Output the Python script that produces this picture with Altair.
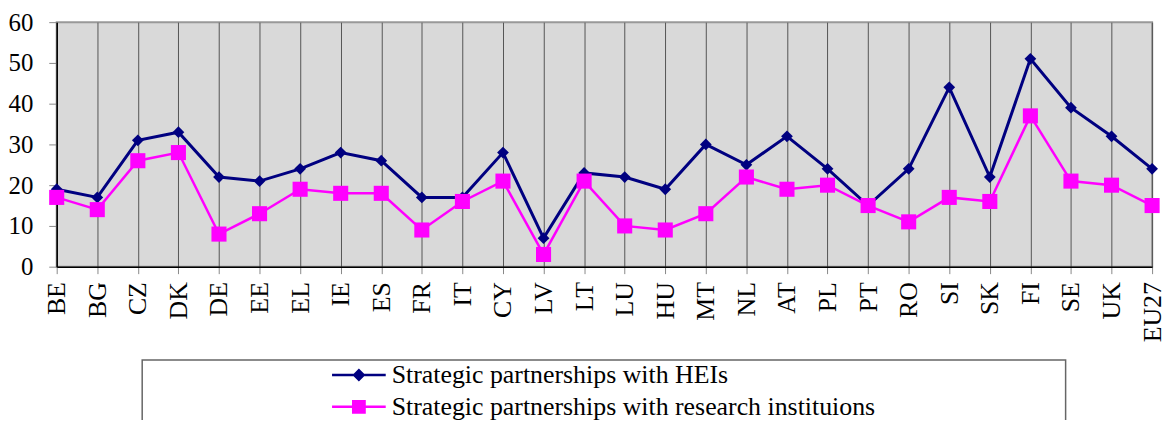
import altair as alt
import pandas as pd

countries = ["BE", "BG", "CZ", "DK", "DE", "EE", "EL", "IE", "ES", "FR", "IT", "CY", "LV", "LT",
             "LU", "HU", "MT", "NL", "AT", "PL", "PT", "RO", "SI", "SK", "FI", "SE", "UK", "EU27"]
heis = [19, 17, 31, 33, 22, 21, 24, 28, 26, 17, 17, 28, 7, 23,
        22, 19, 30, 25, 32, 24, 15, 24, 44, 22, 51, 39, 32, 24]
research = [17, 14, 26, 28, 8, 13, 19, 18, 18, 9, 16, 21, 3, 21,
            10, 9, 13, 22, 19, 20, 15, 11, 17, 16, 37, 21, 20, 15]
series_names = ["Strategic partnerships with HEIs",
                "Strategic partnerships with research instituions"]
y_ticks = [0, 10, 20, 30, 40, 50, 60]

NAVY = "#000080"
MAGENTA = "#ff00ff"

rows = []
for c, a, b in zip(countries, heis, research):
    rows.append({"country": c, "series": series_names[0], "value": a})
    rows.append({"country": c, "series": series_names[1], "value": b})
df = pd.DataFrame(rows)
legend_df = pd.DataFrame({"series": series_names})

FONT = "Liberation Serif, Times New Roman, serif"

x_enc = alt.X("country:N", sort=countries,
              scale=alt.Scale(domain=countries, type="point", padding=0),
              axis=alt.Axis(title=None, labelAngle=270, labelAlign="right", labelBaseline="middle",
                            labelFont=FONT, labelFontSize=26, labelColor="#000000",
                            labelPadding=8, tickSize=7, tickColor="#888888",
                            domainColor="#000000", domainWidth=1.5,
                            grid=True, gridColor="#555555", gridWidth=1))
y_enc = alt.Y("value:Q", scale=alt.Scale(domain=[0, 60], nice=False, zero=True),
              axis=alt.Axis(title=None, values=y_ticks, labelFont=FONT, labelFontSize=25,
                            labelColor="#000000", labelPadding=16, tickSize=8,
                            tickColor="#888888", domainColor="#000000", domainWidth=1.5,
                            grid=False))

base = alt.Chart(df)
sel_a = alt.datum.series == series_names[0]
sel_b = alt.datum.series == series_names[1]

line_a = base.transform_filter(sel_a).mark_line(color=NAVY, strokeWidth=3).encode(x=x_enc, y=y_enc)
pts_a = base.transform_filter(sel_a).mark_point(
    shape="diamond", filled=True, size=140, opacity=1, color=NAVY).encode(x=x_enc, y=y_enc)
line_b = base.transform_filter(sel_b).mark_line(color=MAGENTA, strokeWidth=2.5).encode(x=x_enc, y=y_enc)
pts_b = base.transform_filter(sel_b).mark_point(
    shape="square", filled=True, size=230, opacity=1, color=MAGENTA).encode(x=x_enc, y=y_enc)

legend_shapes = ["M-4.5,0L4.5,0M-0.8,0L0,-0.8L0.8,0L0,0.8Z",
                 "M-4.5,0L4.5,0M-0.95,-0.95L0.95,-0.95L0.95,0.95L-0.95,0.95Z"]
leg = alt.Legend(orient="none", legendX=291, legendY=342, title="",
                 labelFont=FONT, labelFontSize=26, labelColor="#000000",
                 symbolSize=144, symbolStrokeWidth=2.5, symbolOpacity=1,
                 labelOffset=20, rowPadding=6, padding=0, labelLimit=800)
legend_layer = alt.Chart(legend_df).mark_point(
    filled=True, strokeWidth=2.5, opacity=1, size=0).encode(
    x=alt.value(0), y=alt.value(0),
    fill=alt.Fill("series:N", scale=alt.Scale(domain=series_names, range=[NAVY, MAGENTA]), legend=leg),
    stroke=alt.Stroke("series:N", scale=alt.Scale(domain=series_names, range=[NAVY, MAGENTA]), legend=leg),
    shape=alt.Shape("series:N", scale=alt.Scale(domain=series_names, range=legend_shapes), legend=leg),
)

box = alt.Chart(pd.DataFrame({"box": [0]})).mark_rect(
    fillOpacity=0, stroke="#666666", strokeWidth=1.5).encode(
    x=alt.value(86), x2=alt.value(1015), y=alt.value(340), y2=alt.value(417))

chart = alt.layer(line_a, pts_a, line_b, pts_b, legend_layer, box).properties(
    width=1102, height=246,
    autosize=alt.AutoSizeParams(type="none"),
    padding={"left": 49, "top": 13, "right": 16, "bottom": 153},
).configure_view(fill="#d9d9d9", stroke="#999999", strokeWidth=2)

chart.save("out.html", embed_options={"renderer": "svg", "actions": False})
